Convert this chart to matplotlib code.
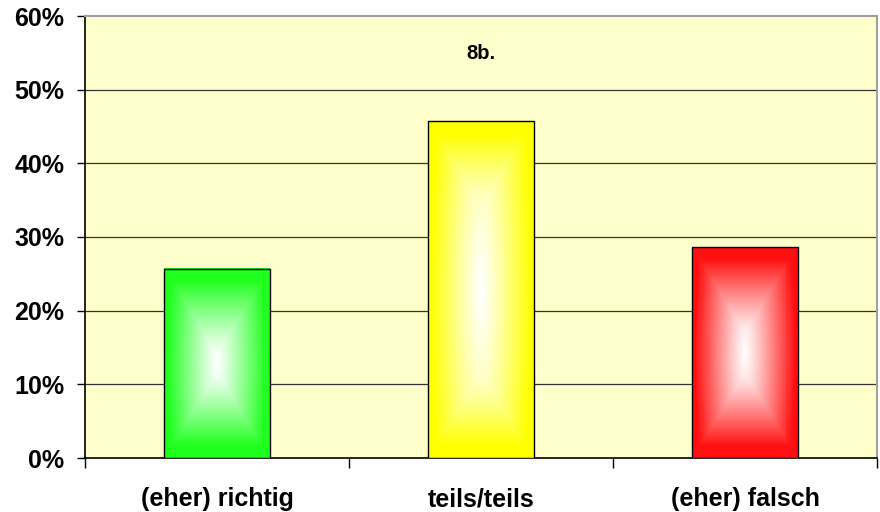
import numpy as np
import matplotlib
matplotlib.use("Agg")
import matplotlib.pyplot as plt
from matplotlib.colors import to_rgb

# ── data ───────────────────────────────────────────────────────────────────
categories = ["(eher) richtig", "teils/teils", "(eher) falsch"]
values     = [25.7, 45.7, 28.6]          # percent
bar_colors = ["#1EFF1E", "#FFFF00", "#FF1010"]
title      = "8b."

plt.rcParams["font.family"] = ["Liberation Sans", "DejaVu Sans"]
plt.rcParams["font.weight"] = "bold"

fig = plt.figure(figsize=(8.8, 5.12), dpi=100)
ax = fig.add_axes([85 / 880, 54 / 512, 792 / 880, 442 / 512])
ax.set_facecolor("#FFFFCC")

x = np.arange(len(categories))
width = 0.4
ax.set_xlim(-0.5, len(categories) - 0.5)
ax.set_ylim(0, 60)

# grid lines behind bars
for yv in range(10, 60, 10):
    ax.axhline(yv, color="#333333", linewidth=0.9, zorder=1)

bars = ax.bar(x, values, width=width, facecolor="none",
              edgecolor="black", linewidth=1.0, zorder=4)

# gradient fill "from centre": white in the middle -> full colour at edges
fig.canvas.draw()
SLOPE = 1.6      # steepness of the corner creases
for bar, col in zip(bars, bar_colors):
    ext = bar.get_window_extent()
    wpx, hpx = ext.width, ext.height
    nx, ny = int(max(wpx, 2)), int(max(hpx, 2))
    px = np.linspace(-wpx / 2, wpx / 2, nx)
    py = np.linspace(-hpx / 2, hpx / 2, ny)
    PX, PY = np.meshgrid(px, py)
    edge = np.minimum(wpx / 2 - np.abs(PX), (hpx / 2 - np.abs(PY)) / SLOPE)
    t1 = np.clip(1 - edge / (wpx / 2), 0, 1)
    v = np.abs(PY) / (hpx / 2)
    t = np.clip(np.sqrt(t1 ** 2 + (0.45 * v) ** 2), 0, 1)
    t = np.clip(t * 1.05, 0, 1) ** 1.1
    c = np.array(to_rgb(col))
    img = (1 - t)[..., None] * np.ones(3) + t[..., None] * c
    x0, y0 = bar.get_x(), bar.get_y()
    ax.imshow(img, extent=[x0, x0 + bar.get_width(), y0, y0 + bar.get_height()],
              aspect="auto", zorder=3, interpolation="bilinear")
ax.set_xlim(-0.5, len(categories) - 0.5)
ax.set_ylim(0, 60)

# axes / ticks
ax.set_yticks(range(0, 61, 10))
ax.set_yticklabels([f"{v}%" for v in range(0, 61, 10)], fontsize=18, fontweight="bold")
ax.tick_params(axis="y", length=6, width=1, pad=9, direction="out")

ax.set_xticks(x)
ax.set_xticklabels(categories, fontsize=18, fontweight="bold")
ax.tick_params(axis="x", which="major", length=0, pad=21)
ax.set_xticks(np.arange(-0.5, len(categories) - 0.4, 1.0), minor=True)
ax.tick_params(axis="x", which="minor", length=7, width=1, direction="out")

for side in ("top", "right"):
    ax.spines[side].set_color("#A0A0A0")
    ax.spines[side].set_linewidth(1.5)
for side in ("left", "bottom"):
    ax.spines[side].set_color("black")
    ax.spines[side].set_linewidth(1.2)

ax.text(0.5, 0.915, title, transform=ax.transAxes, ha="center", va="center",
        fontsize=14.5, fontweight="bold")

fig.savefig("out.png", dpi=100)
